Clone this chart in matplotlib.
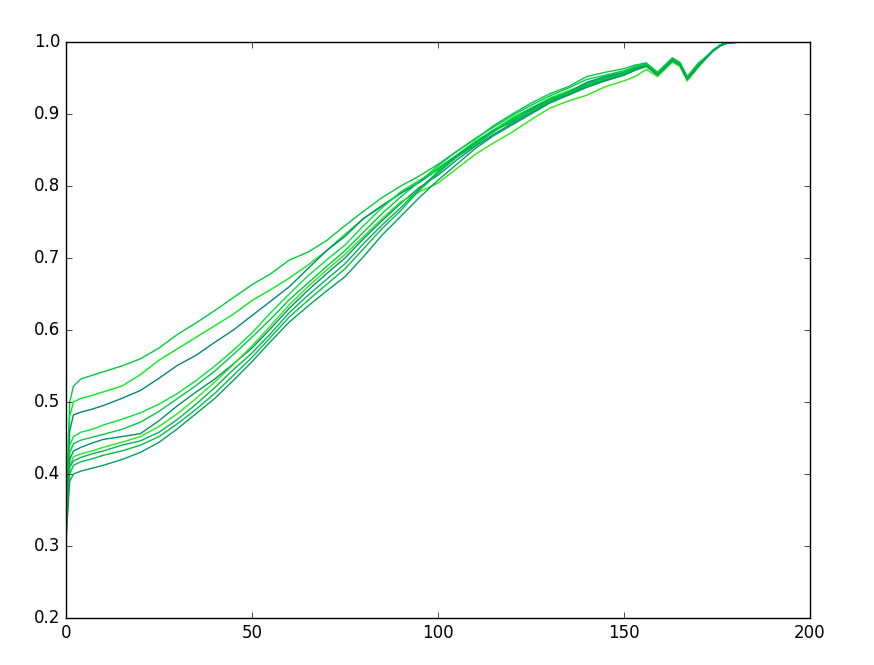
import matplotlib
matplotlib.use("Agg")
import matplotlib.pyplot as plt

plt.style.use('classic')

# training step positions (x) shared by every curve
steps = [0, 1, 2, 4, 7, 10, 15, 20, 25, 30, 35, 40, 45, 50, 55, 60, 65, 70, 75,
         80, 85, 90, 95, 100, 105, 110, 115, 120, 125, 130, 135, 140, 145, 150,
         153, 156, 159, 163, 165, 167, 170, 172, 174, 176, 178, 182, 190, 200]

run_a = [0.35, 0.50, 0.522, 0.532, 0.537, 0.542, 0.550, 0.560, 0.575, 0.594, 0.610, 0.627,
         0.645, 0.663, 0.678, 0.697, 0.708, 0.724, 0.745, 0.765, 0.784, 0.800, 0.814, 0.830,
         0.848, 0.866, 0.882, 0.898, 0.912, 0.925, 0.936, 0.948, 0.954, 0.960,
         0.966, 0.970, 0.957, 0.977, 0.971, 0.951, 0.969, 0.979, 0.989, 0.996, 0.999, 1.0, 1.0, 1.0]
run_b = [0.33, 0.48, 0.500, 0.505, 0.509, 0.514, 0.522, 0.538, 0.558, 0.574, 0.590, 0.606,
         0.622, 0.641, 0.656, 0.672, 0.690, 0.710, 0.733, 0.755, 0.772, 0.790, 0.806, 0.825,
         0.843, 0.862, 0.878, 0.895, 0.908, 0.922, 0.932, 0.942, 0.950, 0.957,
         0.963, 0.968, 0.955, 0.976, 0.969, 0.948, 0.968, 0.978, 0.988, 0.996, 0.999, 1.0, 1.0, 1.0]
run_c = [0.31, 0.46, 0.482, 0.486, 0.490, 0.495, 0.505, 0.516, 0.533, 0.551, 0.565, 0.583,
         0.600, 0.620, 0.640, 0.660, 0.685, 0.710, 0.730, 0.755, 0.773, 0.790, 0.805, 0.823,
         0.842, 0.860, 0.877, 0.890, 0.906, 0.920, 0.930, 0.944, 0.952, 0.958,
         0.964, 0.969, 0.956, 0.977, 0.970, 0.949, 0.969, 0.978, 0.988, 0.996, 0.999, 1.0, 1.0, 1.0]
run_d = [0.33, 0.44, 0.452, 0.458, 0.462, 0.468, 0.476, 0.485, 0.497, 0.512, 0.530, 0.550,
         0.572, 0.596, 0.624, 0.650, 0.675, 0.697, 0.718, 0.745, 0.770, 0.792, 0.808, 0.822,
         0.840, 0.858, 0.875, 0.892, 0.904, 0.918, 0.928, 0.940, 0.947, 0.955,
         0.962, 0.967, 0.954, 0.975, 0.968, 0.948, 0.967, 0.978, 0.988, 0.996, 0.999, 1.0, 1.0, 1.0]
run_e = [0.32, 0.43, 0.442, 0.447, 0.451, 0.455, 0.462, 0.472, 0.487, 0.505, 0.523, 0.543,
         0.566, 0.590, 0.615, 0.642, 0.665, 0.688, 0.710, 0.736, 0.762, 0.785, 0.806, 0.828,
         0.848, 0.865, 0.884, 0.900, 0.915, 0.928, 0.938, 0.952, 0.958, 0.963,
         0.968, 0.971, 0.958, 0.978, 0.972, 0.952, 0.971, 0.979, 0.989, 0.996, 0.999, 1.0, 1.0, 1.0]
run_f = [0.31, 0.42, 0.432, 0.437, 0.443, 0.448, 0.452, 0.456, 0.474, 0.495, 0.514, 0.532,
         0.553, 0.575, 0.602, 0.630, 0.655, 0.678, 0.700, 0.727, 0.752, 0.776, 0.798, 0.815,
         0.836, 0.855, 0.872, 0.887, 0.902, 0.916, 0.927, 0.938, 0.947, 0.954,
         0.961, 0.967, 0.955, 0.975, 0.968, 0.948, 0.967, 0.977, 0.988, 0.995, 0.999, 1.0, 1.0, 1.0]
run_g = [0.30, 0.41, 0.424, 0.428, 0.432, 0.437, 0.444, 0.452, 0.466, 0.484, 0.505, 0.528,
         0.552, 0.578, 0.606, 0.635, 0.660, 0.683, 0.705, 0.730, 0.755, 0.778, 0.792, 0.804,
         0.824, 0.844, 0.860, 0.875, 0.892, 0.908, 0.918, 0.926, 0.938, 0.946,
         0.952, 0.962, 0.952, 0.972, 0.966, 0.946, 0.965, 0.977, 0.987, 0.995, 0.999, 1.0, 1.0, 1.0]
run_h = [0.36, 0.41, 0.418, 0.423, 0.428, 0.432, 0.440, 0.446, 0.458, 0.476, 0.497, 0.520,
         0.545, 0.568, 0.595, 0.624, 0.648, 0.670, 0.692, 0.720, 0.746, 0.770, 0.796, 0.820,
         0.840, 0.857, 0.876, 0.893, 0.908, 0.920, 0.930, 0.940, 0.948, 0.957,
         0.963, 0.968, 0.956, 0.976, 0.969, 0.949, 0.968, 0.978, 0.988, 0.996, 0.999, 1.0, 1.0, 1.0]
run_i = [0.34, 0.40, 0.412, 0.417, 0.421, 0.426, 0.432, 0.440, 0.452, 0.470, 0.490, 0.512,
         0.537, 0.562, 0.590, 0.618, 0.641, 0.663, 0.685, 0.713, 0.741, 0.766, 0.794, 0.818,
         0.840, 0.860, 0.878, 0.888, 0.905, 0.918, 0.930, 0.942, 0.950, 0.958,
         0.964, 0.969, 0.956, 0.977, 0.970, 0.950, 0.968, 0.978, 0.988, 0.996, 0.999, 1.0, 1.0, 1.0]
run_j = [0.31, 0.39, 0.400, 0.404, 0.408, 0.412, 0.420, 0.430, 0.444, 0.463, 0.484, 0.505,
         0.530, 0.556, 0.584, 0.611, 0.633, 0.654, 0.674, 0.702, 0.732, 0.758, 0.784, 0.808,
         0.830, 0.852, 0.870, 0.885, 0.900, 0.915, 0.926, 0.937, 0.946, 0.954,
         0.961, 0.966, 0.954, 0.974, 0.968, 0.948, 0.966, 0.977, 0.988, 0.995, 0.999, 1.0, 1.0, 1.0]

runs = [run_a, run_b, run_c, run_d, run_e, run_f, run_g, run_h, run_i, run_j]
colors = ['#00cc3c', '#00ee1a', '#00877a', '#00e633', '#00c84a',
          '#009070', '#22ee11', '#00b45a', '#00c040', '#00a060']

fig = plt.figure(figsize=(8.74, 6.65), dpi=100, facecolor='white')
ax = fig.add_axes([66 / 874, 47 / 665, 744 / 874, 576 / 665])

for vals, col in zip(runs, colors):
    ax.plot(steps, vals, color=col, linewidth=1.0)

ax.set_xlim(0, 200)
ax.set_ylim(0.2, 1.0)
ax.set_xticks([0, 50, 100, 150, 200])
ax.set_yticks([0.2, 0.3, 0.4, 0.5, 0.6, 0.7, 0.8, 0.9, 1.0])
ax.tick_params(labelsize=12)

fig.savefig('out.png', dpi=100, facecolor='white')
